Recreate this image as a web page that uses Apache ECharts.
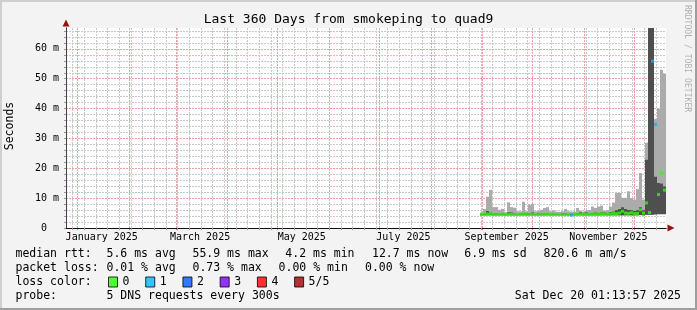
<!DOCTYPE html>
<html><head><meta charset="utf-8">
<script src="https://cdn.jsdelivr.net/npm/echarts@6/dist/echarts.min.js"></script>
<style>html,body{margin:0;padding:0;background:#f3f3f3}#c{width:697px;height:310px}</style>
</head><body><div id="c"></div>
<script>
// ---------------- data ----------------
// plot spans 360 days ending Sat Dec 20 01:13:57 2025
const PLOT_START = Date.UTC(2024, 11, 25, 1, 13, 57);
const SPAN_DAYS = 360;
const DAY_MS = 86400000;

// smoke / median bins (first bin centre in days from plot start, bin length in days)
const binStartDay = 249.3;
const binStep = 1.8;

// median rtt per bin (ms)
const median = [
  4.5, 4.6, 4.7, 4.8, 4.6, 4.5, 4.6, 4.6, 4.5, 4.7,
  4.6, 4.5, 4.6, 4.6, 4.7, 4.6, 4.5, 4.6, 4.6, 4.5,
  4.6, 4.6, 4.7, 4.6, 4.5, 4.6, 4.6, 4.5, 4.6, 4.6,
  4.3, 4.6, 4.6, 4.7, 4.6, 4.6, 4.5, 4.6, 4.7, 4.6,
  4.8, 4.7, 4.6, 4.7, 4.9, 4.8, 5.0, 5.6, 5.0, 4.9,
  5.1, 4.8, 4.9, 6.1, 5.0, 8.4, 5.2, 55.9, 34.7, 11.2,
  18.4, 12.7
];
// lost pings per bin (of 5)
const loss = [
  0,0,0,0,0,0,0,0,0,0,
  0,0,0,0,0,0,0,0,0,0,
  0,0,0,0,0,0,0,0,0,0,
  1,0,0,0,0,0,0,0,0,0,
  0,0,0,0,0,0,0,0,0,0,
  0,0,0,0,0,0,0,1,1,0,
  0,0
];
// smoke: lowest rtt, inner (dark) band top, outer (light) band top
const smokeLo = [
  4.2,4.2,4.2,4.2,4.2,4.2,4.2,4.2,4.2,4.2,
  4.2,4.2,4.2,4.2,4.2,4.2,4.2,4.2,4.2,4.2,
  4.2,4.2,4.2,4.2,4.2,4.2,4.2,4.2,4.2,4.2,
  4.2,4.2,4.2,4.2,4.2,4.2,4.2,4.2,4.2,4.2,
  4.2,4.2,4.2,4.2,4.2,4.2,4.2,4.2,4.2,4.2,
  4.2,4.2,4.2,4.3,4.2,4.4,4.4,4.4,4.5,4.6,
  4.6,4.6
];
const smokeMid = [
  4.9, 5.0, 5.8, 5.3, 5.1, 5.0, 4.9, 5.0, 4.9, 5.4,
  5.3, 5.0, 4.9, 5.0, 5.2, 5.2, 5.1, 5.3, 4.9, 5.0,
  5.0, 5.1, 5.0, 4.9, 5.0, 4.9, 4.9, 5.0, 5.1, 4.9,
  4.9, 4.9, 5.1, 5.4, 5.2, 5.3, 5.0, 5.2, 5.3, 5.2,
  5.5, 5.3, 5.2, 5.4, 5.6, 6.0, 6.5, 7.0, 6.5, 6.2,
  6.0, 5.8, 6.0, 7.0, 6.0, 23.0, 75, 75, 17.3, 15.1,
  15.0, 14.0
];
const smokeHi = [
  5.2, 6.4, 10.5, 12.8, 7.0, 7.0, 6.1, 6.4, 5.3, 8.6,
  7.0, 6.8, 5.6, 5.6, 8.8, 5.6, 7.8, 8.1, 5.6, 5.8,
  6.1, 6.7, 7.0, 5.6, 5.9, 5.5, 5.4, 5.6, 6.4, 5.6,
  5.5, 5.5, 6.7, 5.8, 5.5, 5.9, 6.0, 7.2, 6.7, 7.2,
  7.5, 5.8, 6.0, 7.2, 8.5, 11.7, 11.7, 10.1, 10.1, 12.3,
  10.0, 9.5, 13.0, 18.4, 9.5, 28.6, 75, 75, 36.6, 40.0,
  53.0, 51.7
];

const lossNames = ['0', '1', '2', '3', '4', '5/5'];
const lossColors = ['#26ff00', '#00b8ff', '#0059ff', '#7e00ff', '#ff0000', '#a10000'];

const yMax = 67;
const yLabelValues = [0, 10, 20, 30, 40, 50, 60];
const yMinorStep = 2;

const labelMonths = [0, 2, 4, 6, 8, 10];
const labelNames = ['January 2025', 'March 2025', 'May 2025', 'July 2025', 'September 2025', 'November 2025'];

const statsLine1 = [['median rtt:', 15.5], ['5.6 ms avg', 106.5], ['55.9 ms max', 192.5], ['4.2 ms min', 285.3], ['12.7 ms now', 372], ['6.9 ms sd', 464.3], ['820.6 m am/s', 543.6]];
const statsLine2 = [['packet loss:', 15.5], ['0.01 % avg', 106.5], ['0.73 % max', 192.5], ['0.00 % min', 278.6], ['0.00 % now', 365]];

// ---------------- derived ----------------
const toDay = t => (t - PLOT_START) / DAY_MS;
const binDays = median.map((_, i) => +(binStartDay + i * binStep).toFixed(3));
const monthStartDays = [];
for (let m = 0; m < 12; m++) monthStartDays.push(toDay(Date.UTC(2025, m, 1)));
const labelDays = labelMonths.map(m => toDay(Date.UTC(2025, m, 15, 12)));
const weekDays = [];
for (let t = Date.UTC(2024, 11, 29); toDay(t) < SPAN_DAYS; t += 7 * DAY_MS) weekDays.push(toDay(t));
const yTickValues = [];
for (let v = 0; v <= yMax; v += yMinorStep) yTickValues.push(v);
const yMinorGrid = yTickValues.filter(v => v > 0 && v % 10 !== 0);
const yMajorGrid = yLabelValues.filter(v => v > 0);

const FONT = '"DejaVu Sans Mono", monospace';
const minorLine = { color: '#c8c8c8', type: [2, 1], width: 1 };
const majorLine = { color: '#f0a0a0', type: [2, 1], width: 1 };
const DARK = '#4f4f4f', LIGHT = '#ababab';

const gridLines = []
  .concat(weekDays.map(d => ({ xAxis: d, lineStyle: minorLine })))
  .concat(yMinorGrid.map(v => ({ yAxis: v, lineStyle: minorLine })))
  .concat(monthStartDays.map(d => ({ xAxis: d, lineStyle: majorLine })))
  .concat(yMajorGrid.map(v => ({ yAxis: v, lineStyle: majorLine })));

const smokeData = binDays.map((d, i) => [d, smokeLo[i], smokeMid[i], smokeHi[i]]);

function renderSmoke(params, api) {
  const d = api.value(0);
  const w = api.size([binStep, 0])[0];
  const pLo = api.coord([d, api.value(1)]);
  const pMid = api.coord([d, api.value(2)]);
  const pHi = api.coord([d, api.value(3)]);
  const x = pLo[0] - w / 2;
  return { type: 'group', children: [
    { type: 'rect', shape: { x: x, y: pMid[1], width: w, height: Math.max(0, pLo[1] - pMid[1]) }, style: { fill: DARK } },
    { type: 'rect', shape: { x: x, y: pHi[1], width: w, height: Math.max(0, pMid[1] - pHi[1]) }, style: { fill: LIGHT } }
  ] };
}

const series = [
  { name: 'smoke', type: 'custom', renderItem: renderSmoke, clip: true, data: smokeData,
    encode: { x: 0, y: [1, 2, 3] }, z: 2, silent: true,
    markLine: { silent: true, symbol: ['none', 'none'], label: { show: false }, animation: false, z: 1, emphasis: { disabled: true }, data: gridLines } }
];
lossNames.forEach((nm, k) => {
  series.push({
    name: nm, type: 'scatter', symbol: 'rect', symbolSize: [3, 3], z: 4, silent: true,
    itemStyle: { color: lossColors[k] },
    data: binDays.map((d, i) => loss[i] === k ? [d, median[i]] : null).filter(Boolean)
  });
});

function txt(text, x, y, size, extra) {
  return Object.assign({ type: 'text', x: x, y: y, silent: true,
    style: Object.assign({ text: text, font: size + 'px ' + FONT, fill: '#000', align: 'left', verticalAlign: 'middle' }, (extra || {}).style || {}) },
    (extra || {}).el || {});
}

const graphics = [
  { type: 'rect', shape: { x: 0, y: 0, width: 697, height: 2 }, style: { fill: '#cfcfcf' }, silent: true },
  { type: 'rect', shape: { x: 0, y: 0, width: 2, height: 310 }, style: { fill: '#cfcfcf' }, silent: true },
  { type: 'rect', shape: { x: 0, y: 308, width: 697, height: 2 }, style: { fill: '#9e9e9e' }, silent: true },
  { type: 'rect', shape: { x: 695, y: 0, width: 2, height: 310 }, style: { fill: '#9e9e9e' }, silent: true },
  txt('Last 360 Days from smokeping to quad9', 348.5, 19.5, 13, { style: { align: 'center' } }),
  txt('Seconds', 10, 126, 11.5, { style: { align: 'center' }, el: { rotation: Math.PI / 2 } }),
  txt('RRDTOOL / TOBI OETIKER', 687.5, 5, 8.1, { style: { fill: '#b0b0b0' }, el: { rotation: -Math.PI / 2 } }),
  txt('loss color:', 15.5, 282.3, 11.5),
  txt('probe:', 15.5, 296.2, 11.5),
  txt('5 DNS requests every 300s', 106.5, 296.2, 11.5),
  txt('Sat Dec 20 01:13:57 2025', 681, 296.2, 11.5, { style: { align: 'right' } })
];
statsLine1.forEach(([t, x]) => graphics.push(txt(t, x, 254.3, 11.5)));
statsLine2.forEach(([t, x]) => graphics.push(txt(t, x, 268.3, 11.5)));

const chart = echarts.init(document.getElementById('c'), null, { renderer: 'canvas' });
chart.setOption({
  animation: false,
  backgroundColor: '#f3f3f3',
  grid: { left: 66, right: 31, top: 28, bottom: 82, show: true, backgroundColor: '#ffffff', borderWidth: 0, containLabel: false },
  legend: {
    data: lossNames, left: 108, top: 276, padding: 0, itemWidth: 9, itemHeight: 10, itemGap: 15.8,
    icon: 'rect', selectedMode: false, itemStyle: { borderColor: '#000', borderWidth: 1 },
    textStyle: { fontFamily: FONT, fontSize: 11.5, color: '#000' }
  },
  xAxis: [
    { type: 'value', min: 0, max: SPAN_DAYS, position: 'bottom', z: 3,
      axisLine: { show: true, onZero: false, lineStyle: { color: '#111', width: 1 } },
      axisTick: { show: true, customValues: weekDays, length: 2, lineStyle: { color: '#999' } },
      axisLabel: { customValues: labelDays, margin: 4, fontFamily: FONT, fontSize: 10, color: '#000',
        formatter: v => { const i = labelDays.findIndex(d => Math.abs(d - v) < 1e-6); return i >= 0 ? labelNames[i] : ''; } },
      splitLine: { show: false } },
    { type: 'value', min: 0, max: SPAN_DAYS, position: 'bottom', z: 2,
      axisLine: { show: true, onZero: false, symbol: ['none', 'triangle'], symbolSize: [7, 7], symbolOffset: [0, 5], lineStyle: { color: '#9b1010' } },
      axisTick: { show: true, customValues: monthStartDays, length: 2, lineStyle: { color: '#e07070' } },
      axisLabel: { show: false }, splitLine: { show: false } }
  ],
  yAxis: [
    { type: 'value', min: 0, max: yMax, position: 'left', z: 3,
      axisLine: { show: true, onZero: false, lineStyle: { color: '#444', width: 1 } },
      axisTick: { show: true, customValues: yTickValues, length: 2, lineStyle: { color: '#999' } },
      axisLabel: { customValues: yLabelValues, margin: 7, fontFamily: FONT, fontSize: 10, color: '#000',
        formatter: v => v === 0 ? '0  ' : v + ' m' },
      splitLine: { show: false } },
    { type: 'value', min: 0, max: yMax, position: 'left', z: 2,
      axisLine: { show: true, onZero: false, symbol: ['none', 'triangle'], symbolSize: [7, 7], symbolOffset: [0, 5], lineStyle: { color: '#9b1010' } },
      axisTick: { show: false }, axisLabel: { show: false }, splitLine: { show: false } }
  ],
  graphic: graphics,
  series: series
});
</script></body></html>
